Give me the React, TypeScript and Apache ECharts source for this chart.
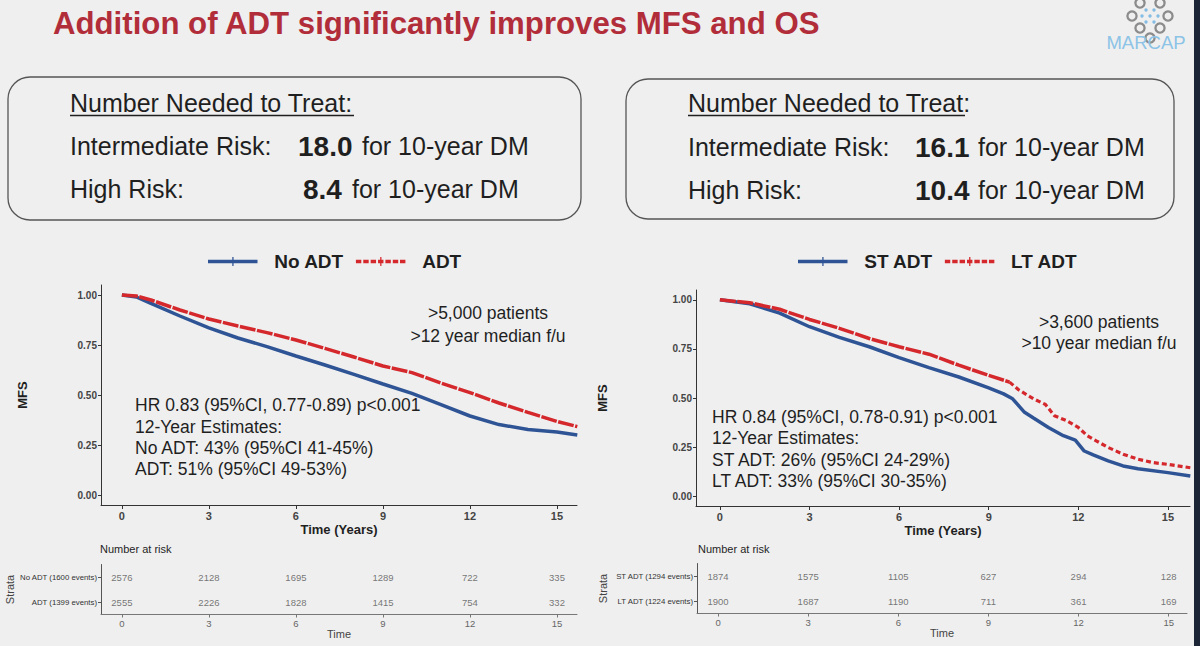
import React, { useEffect, useRef } from "react";
import * as echarts from "echarts";

const FONT = '"Liberation Sans", Arial, sans-serif';

const TIME_TICKS = [0, 3, 6, 9, 12, 15];
const MFS_TICKS = [0, 0.25, 0.5, 0.75, 1];

const leftNames = ["No ADT", "ADT"];
const leftTimes = [0, 0.5, 1, 2, 3, 4, 5, 6, 7, 8, 9, 10, 11, 12, 13, 14, 15, 15.7];
const noAdtMfs = [1.0, 0.99, 0.958, 0.895, 0.836, 0.785, 0.742, 0.695, 0.65, 0.603, 0.555, 0.508, 0.452, 0.395, 0.352, 0.328, 0.315, 0.3];
const adtMfs = [1.0, 0.995, 0.975, 0.925, 0.88, 0.845, 0.812, 0.775, 0.733, 0.69, 0.645, 0.612, 0.56, 0.512, 0.46, 0.413, 0.368, 0.342];

const rightNames = ["ST ADT", "LT ADT"];
const stAdtTimes = [0, 1, 2, 3, 4, 5, 6, 7, 8, 9, 9.5, 9.8, 10.2, 10.5, 11, 11.5, 11.9, 12.2, 12.5, 13, 13.5, 14, 15, 15.75];
const stAdtMfs = [1.0, 0.98, 0.932, 0.863, 0.809, 0.761, 0.706, 0.655, 0.607, 0.552, 0.521, 0.496, 0.427, 0.398, 0.35, 0.308, 0.285, 0.23, 0.21, 0.18, 0.154, 0.14, 0.12, 0.103];
const ltAdtTimes = [0, 1, 2, 3, 4, 5, 6, 7, 8, 9, 9.7, 10, 10.5, 10.9, 11.2, 11.6, 12, 12.3, 12.6, 13, 13.5, 14, 14.5, 15, 15.75];
const ltAdtMfs = [1.0, 0.985, 0.952, 0.9, 0.855, 0.803, 0.761, 0.723, 0.667, 0.615, 0.581, 0.542, 0.496, 0.467, 0.41, 0.385, 0.35, 0.308, 0.282, 0.248, 0.214, 0.188, 0.171, 0.162, 0.145];
// index in the LT ADT curve after which its dashes become clearly visible
const ltAdtDashFrom = 10;

const leftStrata = ["No ADT (1600 events)", "ADT (1399 events)"];
const noAdtAtRisk = [2576, 2128, 1695, 1289, 722, 335];
const adtAtRisk = [2555, 2226, 1828, 1415, 754, 332];
const rightStrata = ["ST ADT (1294 events)", "LT ADT (1224 events)"];
const stAdtAtRisk = [1874, 1575, 1105, 627, 294, 128];
const ltAdtAtRisk = [1900, 1687, 1190, 711, 361, 169];

const BLUE = "#2f5495";
const RED = "#d5282c";
const INK = "#1f1f1f";

const SOLID_ICON = "path://M0,3h55v4h-55z M27,0h1.4v10h-1.4z";
const DASH_ICON =
  "path://M0,3h6v4h-6z M8.2,3h6v4h-6z M16.4,3h6v4h-6z M24.6,3h6v4h-6z M32.8,3h6v4h-6z M41,3h6v4h-6z M49,3h6v4h-6z M27,0h1.4v10h-1.4z";

function zip(t: number[], v: number[]) {
  return t.map((x, i) => [x, v[i]]);
}

function riskRows(strata: string[], rows: number[][]) {
  const out: any[] = [];
  strata.forEach((s, i) => {
    rows[i].forEach((n, j) => out.push([TIME_TICKS[j], s, n]));
  });
  return out;
}

function txt(text: string, x: number, y: number, size: number, extra: any = {}) {
  return {
    type: "text",
    x,
    y,
    silent: true,
    style: {
      text,
      font: `${extra.bold ? "bold " : ""}${size}px ${FONT}`,
      fill: extra.fill || INK,
      textAlign: extra.align || "left",
      textVerticalAlign: "middle",
    },
  };
}

function mainX(gridIndex: number, min: number, max: number) {
  return {
    type: "value",
    gridIndex,
    min,
    max,
    splitLine: { show: false },
    axisLine: { show: true, onZero: false, lineStyle: { color: "#333", width: 1 } },
    axisTick: { show: true, customValues: TIME_TICKS, length: 4, lineStyle: { color: "#333" } },
    axisLabel: { customValues: TIME_TICKS, fontFamily: FONT, fontSize: 11, fontWeight: "bold", color: "#444", margin: 5 },
    name: "Time (Years)",
    nameLocation: "middle",
    nameGap: 18,
    nameMoveOverlap: false,
    nameTextStyle: { fontFamily: FONT, fontSize: 13, fontWeight: "bold", color: INK },
  };
}

function mainY(gridIndex: number, gap: number) {
  return {
    type: "value",
    gridIndex,
    min: -0.05,
    max: 1.05,
    splitLine: { show: false },
    axisLine: { show: true, onZero: false, lineStyle: { color: "#333", width: 1 } },
    axisTick: { show: true, customValues: MFS_TICKS, length: 3, lineStyle: { color: "#333" } },
    axisLabel: {
      customValues: MFS_TICKS,
      formatter: (v: number) => v.toFixed(2),
      fontFamily: FONT,
      fontSize: 10,
      fontWeight: "bold",
      color: "#444",
      margin: 4,
    },
    name: "MFS",
    nameLocation: "middle",
    nameRotate: 90,
    nameGap: gap,
    nameMoveOverlap: false,
    nameTextStyle: { fontFamily: FONT, fontSize: 13, fontWeight: "bold", color: INK },
  };
}

function tableX(gridIndex: number, min: number, max: number) {
  return {
    type: "value",
    gridIndex,
    min,
    max,
    splitLine: { show: false },
    axisLine: { show: true, onZero: false, lineStyle: { color: "#777", width: 1 } },
    axisTick: { show: true, customValues: TIME_TICKS, length: 3, lineStyle: { color: "#777" } },
    axisLabel: { customValues: TIME_TICKS, fontFamily: FONT, fontSize: 9.5, color: "#666", margin: 4 },
    name: "Time",
    nameLocation: "middle",
    nameGap: 14,
    nameMoveOverlap: false,
    nameTextStyle: { fontFamily: FONT, fontSize: 11, color: "#444" },
  };
}

function tableY(gridIndex: number, strata: string[], gap: number) {
  return {
    type: "category",
    gridIndex,
    data: strata,
    inverse: true,
    axisLine: { show: true, onZero: false, lineStyle: { color: "#555", width: 1 } },
    axisTick: { show: true, alignWithLabel: true, length: 3, lineStyle: { color: "#555" } },
    axisLabel: { fontFamily: FONT, fontSize: 7.8, color: "#333", margin: 4 },
    name: "Strata",
    nameLocation: "middle",
    nameRotate: 90,
    nameGap: gap,
    nameMoveOverlap: false,
    nameTextStyle: { fontFamily: FONT, fontSize: 11, color: "#444" },
  };
}

function legendAt(left: number, names: string[]) {
  return {
    left,
    top: 247,
    data: [
      { name: names[0], icon: SOLID_ICON },
      { name: names[1], icon: DASH_ICON },
    ],
    itemWidth: 55,
    itemHeight: 9,
    itemGap: 12,
    textStyle: { fontFamily: FONT, fontSize: 19, fontWeight: "bold", color: INK, padding: [0, 0, 0, 9] },
  };
}

function riskSeries(x: number, y: number, data: any[]) {
  return {
    type: "scatter",
    xAxisIndex: x,
    yAxisIndex: y,
    symbolSize: 0,
    silent: true,
    data,
    label: {
      show: true,
      position: "inside",
      formatter: (p: any) => String(p.value[2]),
      fontFamily: FONT,
      fontSize: 9.5,
      color: "#555",
    },
  };
}

function logo() {
  const rings = [
    [1140, 3], [1160, 3], [1132, 16], [1168, 16], [1140, 28], [1160, 28], [1150, 38],
  ];
  const dots = [
    [1146, 10], [1154, 10], [1142, 16], [1150, 16], [1158, 16], [1146, 22], [1154, 22],
  ];
  const els: any[] = rings.map(([cx, cy]) => ({
    type: "circle",
    silent: true,
    shape: { cx, cy, r: 4.6 },
    style: { fill: "none", stroke: "#8c8c8c", lineWidth: 2.3 },
  }));
  dots.forEach(([cx, cy]) =>
    els.push({ type: "circle", silent: true, shape: { cx, cy, r: 1.7 }, style: { fill: "#86bde3" } })
  );
  els.push(txt("MARCAP", 1146, 42, 18.5, { align: "center", fill: "#8cc3e6" }));
  return els;
}

export default function App() {
  const ref = useRef<HTMLDivElement>(null);

  useEffect(() => {
    if (!ref.current) return;
    const chart = echarts.init(ref.current, null, { renderer: "svg" });

    const graphic: any[] = [
      { type: "rect", silent: true, shape: { x: 1194, y: 0, width: 6, height: 646 }, style: { fill: "#1b2535" } },
      txt("Addition of ADT significantly improves MFS and OS", 53, 23, 31.2, { bold: true, fill: "#b22d3a" }),
      ...logo(),
      // left box
      { type: "rect", silent: true, shape: { x: 8, y: 77, width: 573, height: 143, r: 22 }, style: { fill: "none", stroke: "#555", lineWidth: 1.3 } },
      txt("Number Needed to Treat:", 70, 103, 25),
      { type: "line", silent: true, shape: { x1: 70, y1: 115.5, x2: 354, y2: 115.5 }, style: { stroke: INK, lineWidth: 1.5 } },
      txt("Intermediate Risk:", 70, 146, 25),
      txt("18.0", 298, 146, 28, { bold: true }),
      txt("for 10-year DM", 362, 146, 25),
      txt("High Risk:", 70, 189, 25),
      txt("8.4", 303, 189, 28, { bold: true }),
      txt("for 10-year DM", 352, 189, 25),
      // right box
      { type: "rect", silent: true, shape: { x: 626, y: 79, width: 548, height: 140, r: 22 }, style: { fill: "none", stroke: "#555", lineWidth: 1.3 } },
      txt("Number Needed to Treat:", 688, 103, 25),
      { type: "line", silent: true, shape: { x1: 688, y1: 115.5, x2: 965, y2: 115.5 }, style: { stroke: INK, lineWidth: 1.5 } },
      txt("Intermediate Risk:", 688, 147, 25),
      txt("16.1", 915, 147, 28, { bold: true }),
      txt("for 10-year DM", 978, 147, 25),
      txt("High Risk:", 688, 190, 25),
      txt("10.4", 915, 190, 28, { bold: true }),
      txt("for 10-year DM", 978, 190, 25),
      // left plot annotations
      txt(">5,000 patients", 488, 313, 17.5, { align: "center" }),
      txt(">12 year median f/u", 488, 336, 17.5, { align: "center" }),
      txt("HR 0.83 (95%CI, 0.77-0.89) p<0.001", 135, 405, 17.5),
      txt("12-Year Estimates:", 135, 427, 17.5),
      txt("No ADT: 43% (95%CI 41-45%)", 135, 448, 17.5),
      txt("ADT: 51% (95%CI 49-53%)", 135, 469, 17.5),
      // right plot annotations
      txt(">3,600 patients", 1099, 322, 17.5, { align: "center" }),
      txt(">10 year median f/u", 1099, 343, 17.5, { align: "center" }),
      txt("HR 0.84 (95%CI, 0.78-0.91) p<0.001", 712, 417, 17.5),
      txt("12-Year Estimates:", 712, 438, 17.5),
      txt("ST ADT: 26% (95%CI 24-29%)", 712, 460, 17.5),
      txt("LT ADT: 33% (95%CI 30-35%)", 712, 481, 17.5),
      // risk table headers
      txt("Number at risk", 100, 549, 11),
      txt("Number at risk", 698, 549, 11),
    ];

    const lineBase = { type: "line", symbol: "none", showSymbol: false };
    const gridBase = { outerBoundsMode: "none", containLabel: false };

    chart.setOption({
      animation: false,
      backgroundColor: "#efefef",
      textStyle: { fontFamily: FONT },
      grid: [
        { ...gridBase, left: 101, top: 285, width: 476, height: 220 },
        { ...gridBase, left: 696, top: 290, width: 494, height: 216 },
        { ...gridBase, left: 101, top: 564.5, width: 476, height: 50 },
        { ...gridBase, left: 697, top: 563.5, width: 490, height: 50 },
      ],
      xAxis: [mainX(0, -0.72, 15.69), mainX(1, -0.8, 15.74), tableX(2, -0.72, 15.69), tableX(3, -0.7, 15.61)],
      yAxis: [mainY(0, 72), mainY(1, 87), tableY(2, leftStrata, 86), tableY(3, rightStrata, 89)],
      legend: [legendAt(203, leftNames), legendAt(793, rightNames)],
      series: [
        {
          ...lineBase, name: leftNames[0], xAxisIndex: 0, yAxisIndex: 0,
          data: zip(leftTimes, noAdtMfs), color: BLUE, lineStyle: { width: 3.5, color: BLUE },
        },
        {
          ...lineBase, name: leftNames[1], xAxisIndex: 0, yAxisIndex: 0,
          data: zip(leftTimes, adtMfs), color: RED, lineStyle: { width: 3.5, color: RED, type: [16, 1.5] },
        },
        {
          ...lineBase, name: rightNames[0], xAxisIndex: 1, yAxisIndex: 1,
          data: zip(stAdtTimes, stAdtMfs), color: BLUE, lineStyle: { width: 3.5, color: BLUE },
        },
        {
          ...lineBase, name: rightNames[1], xAxisIndex: 1, yAxisIndex: 1,
          data: zip(ltAdtTimes, ltAdtMfs).slice(0, ltAdtDashFrom + 1), color: RED,
          lineStyle: { width: 3.5, color: RED, type: [16, 1.5] },
        },
        {
          ...lineBase, name: rightNames[1], xAxisIndex: 1, yAxisIndex: 1,
          data: zip(ltAdtTimes, ltAdtMfs).slice(ltAdtDashFrom), color: RED,
          lineStyle: { width: 3.2, color: RED, type: [5, 3] },
        },
        riskSeries(2, 2, riskRows(leftStrata, [noAdtAtRisk, adtAtRisk])),
        riskSeries(3, 3, riskRows(rightStrata, [stAdtAtRisk, ltAdtAtRisk])),
      ],
      graphic,
    });

    return () => chart.dispose();
  }, []);

  return (
    <div
      ref={ref}
      style={{ position: "fixed", left: 0, top: 0, width: 1200, height: 646, background: "#efefef" }}
    />
  );
}
